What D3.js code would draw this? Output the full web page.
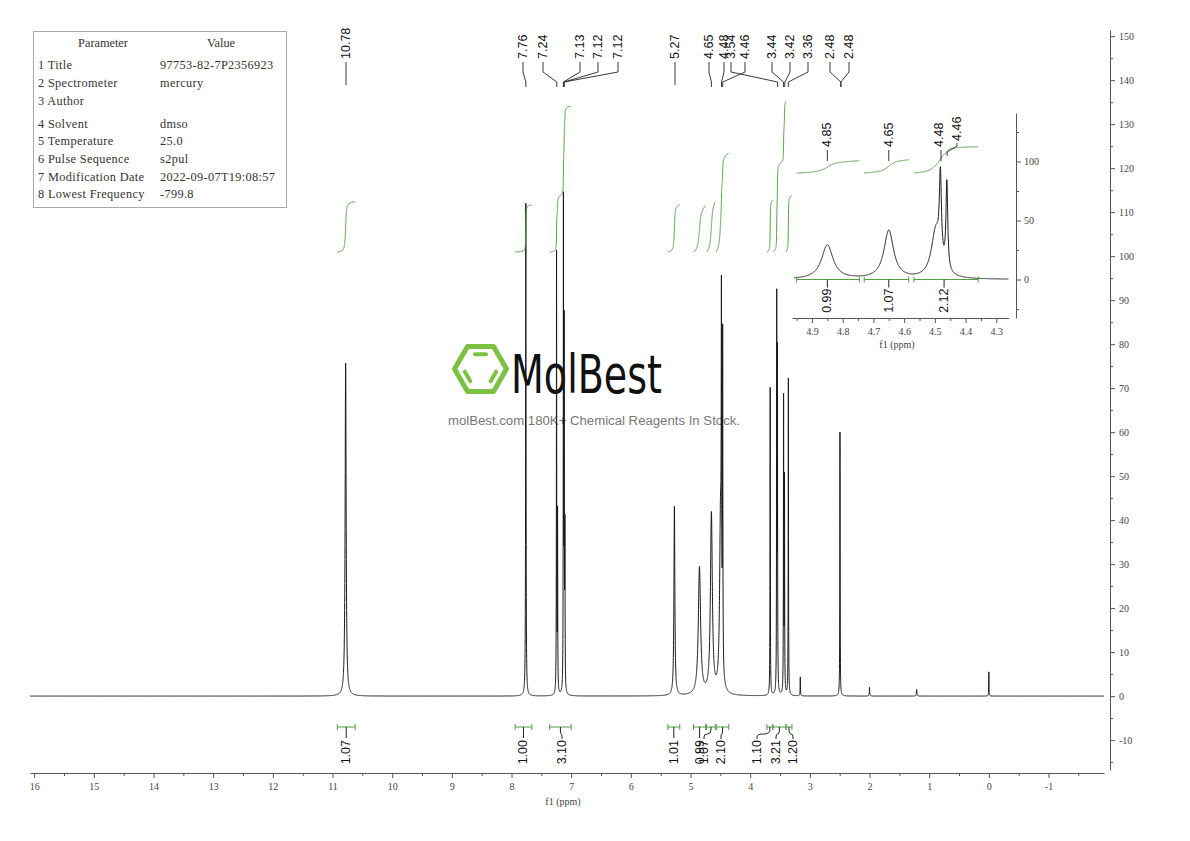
<!DOCTYPE html>
<html><head><meta charset="utf-8">
<script src="https://cdn.jsdelivr.net/npm/d3@7"></script>
<style>body{margin:0;background:#fff;} svg{display:block;}</style>
</head><body>
<svg id="c" width="1190" height="841"></svg>
<script>
// ---------------- DATA ----------------
const peakPpm    = [10.78, 7.76, 7.245, 7.228, 7.13, 7.117, 7.105, 5.27, 4.85, 4.65, 4.497, 4.482, 4.461, 3.665, 3.555, 3.543, 3.44, 3.425, 3.36, 3.16, 2.495, 2.0, 1.21, 0.0];
const peakHeight = [75.7, 112, 100, 40, 110, 80, 35, 43, 29, 41, 40, 70, 74, 70, 88, 75, 66.7, 48, 72, 4.3, 60, 2, 1.5, 5.5];
const peakWidth  = [0.02, 0.008, 0.006, 0.006, 0.006, 0.006, 0.006, 0.018, 0.045, 0.038, 0.035, 0.008, 0.007, 0.006, 0.006, 0.006, 0.006, 0.006, 0.006, 0.006, 0.006, 0.008, 0.01, 0.006];

const peakLabels   = ["10.78","7.76","7.24","7.13","7.12","7.12","5.27","4.65","4.48","3.54","4.46","3.44","3.42","3.36","2.48","2.48"];
const peakLabelPpm = [10.78, 7.76, 7.24, 7.13, 7.12, 7.12, 5.27, 4.65, 4.48, 3.54, 4.46, 3.44, 3.42, 3.36, 2.48, 2.48];

const intFrom  = [10.92, 7.94, 7.36, 5.38, 4.95, 4.73, 4.568, 3.72, 3.62, 3.40];
const intTo    = [10.62, 7.66, 7.00, 5.18, 4.746, 4.585, 4.359, 3.62, 3.40, 3.30];
const intVals  = ["1.07","1.00","3.10","1.01","0.99","1.07","2.10","1.10","3.21","1.20"];

const insetLabels   = ["4.85","4.65","4.48","4.46"];
const insetLabelPpm = [4.85, 4.65, 4.48, 4.46];
const insetIntFrom  = [4.95, 4.73, 4.568];
const insetIntTo    = [4.746, 4.585, 4.359];
const insetIntVals  = ["0.99","1.07","2.12"];

const xTicks = d3.range(16, -2, -1);
const yTicks = d3.range(-10, 151, 10);
const yMinorTicks = d3.range(-15, 150, 10);
const insetXTicks = [4.9, 4.8, 4.7, 4.6, 4.5, 4.4, 4.3];
const insetYTicks = [0, 50, 100];

const paramNames  = ["1 Title","2 Spectrometer","3 Author","4 Solvent","5 Temperature","6 Pulse Sequence","7 Modification Date","8 Lowest Frequency"];
const paramValues = ["97753-82-7P2356923","mercury","","dmso","25.0","s2pul","2022-09-07T19:08:57","-799.8"];

// ---------------- LAYOUT ----------------
const peakLabelX  = [346,523,543,580,598,618,675,709,724,731,745,772,790,808,830,849];
const intLabelX   = [346,523,562,674,700,704,721,757,776,793];
const insetLabelX = [827,889,939,957];
const paramRowY   = [69,87,105,128,145,163,181,198];
const GREEN = "#4f9f42";
const SERIF = "'Liberation Serif','DejaVu Serif',serif";
const SANS  = "'Liberation Sans',Arial,sans-serif";

const svg = d3.select('#c');
const x = d3.scaleLinear().domain([16.07, -1.93]).range([30, 1104]);
const y = d3.scaleLinear().domain([-16.8, 151.4]).range([770, 30]);

const spec = p => {
  let s = 0;
  for (let i = 0; i < peakPpm.length; i++) {
    const d = (p - peakPpm[i]) / (peakWidth[i] / 2);
    s += peakHeight[i] / (1 + d * d);
  }
  return s;
};

// ---------------- WATERMARK ----------------
(function(){
  const g = svg.append('g');
  const cx = 480.5, cy = 369, r = 26;
  const hex = d3.range(6).map(i => [cx + r*Math.cos(i*Math.PI/3), cy + r*Math.sin(i*Math.PI/3)]);
  g.append('path').attr('d', 'M' + hex.map(p=>p.join(',')).join('L') + 'Z')
    .attr('fill','none').attr('stroke','#7cc242').attr('stroke-width',5).attr('stroke-linejoin','round');
  const ri = 0.66*r;
  const inner = d3.range(6).map(i => [cx + ri*Math.cos(i*Math.PI/3), cy + ri*Math.sin(i*Math.PI/3)]);
  [[4,5],[0,1],[2,3]].forEach(([a,b])=>{
    const p=inner[a], q=inner[b];
    const t=0.18;
    g.append('line').attr('x1',p[0]+(q[0]-p[0])*t).attr('y1',p[1]+(q[1]-p[1])*t)
      .attr('x2',p[0]+(q[0]-p[0])*(1-t)).attr('y2',p[1]+(q[1]-p[1])*(1-t))
      .attr('stroke','#7cc242').attr('stroke-width',4).attr('stroke-linecap','round');
  });
  g.append('text').attr('x',511).attr('y',393).text('MolBest')
    .attr('font-family',"'DejaVu Sans Condensed','DejaVu Sans',sans-serif").attr('font-size',54)
    .attr('textLength',151).attr('lengthAdjust','spacingAndGlyphs').attr('fill','#111');
  g.append('text').attr('x',448).attr('y',425).text('molBest.com 180K+ Chemical Reagents In Stock.')
    .attr('font-family',SANS).attr('font-size',12.5).attr('fill','#777')
    .attr('textLength',292).attr('lengthAdjust','spacingAndGlyphs');
})();

// ---------------- PARAMETER TABLE ----------------
(function(){
  const g = svg.append('g').attr('font-family',SERIF).attr('font-size',12.3).attr('fill','#333');
  g.append('rect').attr('x',33.5).attr('y',31.5).attr('width',253).attr('height',176)
    .attr('fill','none').attr('stroke','#aaa');
  g.append('text').attr('x',103).attr('y',47).attr('text-anchor','middle').text('Parameter');
  g.append('text').attr('x',221).attr('y',47).attr('text-anchor','middle').text('Value');
  paramNames.forEach((n,i)=>{
    g.append('text').attr('x',38).attr('y',paramRowY[i]).text(n).attr('letter-spacing',0.35);
    g.append('text').attr('x',160).attr('y',paramRowY[i]).text(paramValues[i]).attr('letter-spacing',0.35);
  });
})();

// ---------------- MAIN SPECTRUM ----------------
const samples = d3.range(16.07, -1.93, -0.001).concat(peakPpm).sort((a,b)=>b-a);
const specPts = samples.map(p => [p, spec(p)]);
svg.append('path').datum(specPts)
  .attr('d', d3.line().x(d=>x(d[0])).y(d=>y(d[1])))
  .attr('fill','none').attr('stroke','#1a1a1a').attr('stroke-width',1);

// axes
const axX = svg.append('g').attr('transform','translate(0,773)')
  .call(d3.axisBottom(x).tickValues(xTicks).tickSize(5).tickSizeOuter(0).tickFormat(d=>String(d)));
svg.append('g').attr('transform','translate(0,773)')
  .call(d3.axisBottom(x).tickValues(xTicks.map(d=>d-0.5)).tickSize(3).tickSizeOuter(0).tickFormat(''))
  .select('.domain').remove();
const axY = svg.append('g').attr('transform','translate(1110,0)')
  .call(d3.axisRight(y).tickValues(yTicks).tickSize(5).tickSizeOuter(0).tickFormat(d=>String(d)));
svg.append('g').attr('transform','translate(1110,0)')
  .call(d3.axisRight(y).tickValues(yMinorTicks).tickSize(3).tickSizeOuter(0).tickFormat(''))
  .select('.domain').remove();
svg.selectAll('.tick line').attr('stroke','#555');
svg.selectAll('.domain').attr('stroke','#555');
[axX, axY].forEach(a=>a.selectAll('text').attr('font-family',SERIF).attr('font-size',10).attr('fill','#444'));
axX.selectAll('text').attr('dy','0.9em');
axY.selectAll('text').attr('dx','1');
svg.append('text').attr('x',563).attr('y',805).attr('text-anchor','middle')
  .attr('font-family',SERIF).attr('font-size',10).attr('fill','#444').text('f1 (ppm)');

// integral curves (top)
function integralCurve(g, xs, from, to, base, k, val){
  const pts = d3.range(from, to, -0.0005).concat([to]);
  const vals = pts.map(spec);
  let cum = 0; const c = [0];
  for (let i=1;i<pts.length;i++){ cum += (vals[i]+vals[i-1])/2; c.push(cum); }
  const tot = cum || 1;
  g.append('path').datum(pts.map((p,i)=>[xs(p), base - c[i]/tot*k*val]))
    .attr('d', d3.line()).attr('fill','none').attr('stroke',GREEN).attr('stroke-width',1);
}
const intG = svg.append('g');
intFrom.forEach((f,i)=> integralCurve(intG, x, f, intTo[i], 252, 47, +intVals[i]));

// integral brackets (bottom)
const brG = svg.append('g').attr('stroke',GREEN).attr('stroke-width',1).attr('fill','none');
intFrom.forEach((f,i)=>{
  const x1 = x(f), x2 = x(intTo[i]), cx = (x1+x2)/2, lx = intLabelX[i];
  brG.append('line').attr('x1',x1).attr('x2',x2).attr('y1',727).attr('y2',727);
  brG.append('line').attr('x1',x1).attr('x2',x1).attr('y1',724).attr('y2',730);
  brG.append('line').attr('x1',x2).attr('x2',x2).attr('y1',724).attr('y2',730);
  if (Math.abs(lx-cx) < 1.5) {
    brG.append('line').attr('x1',cx).attr('x2',cx).attr('y1',727).attr('y2',738).attr('stroke','#222');
  } else {
    brG.append('path').attr('d',`M${cx},727 L${cx},730 Q${cx},734 ${(cx+lx)/2},734 Q${lx},734 ${lx},737 L${lx},739`).attr('stroke','#222');
  }
  svg.append('text').attr('transform',`translate(${lx},740) rotate(-90)`)
    .attr('text-anchor','end').attr('dominant-baseline','central')
    .attr('font-family',SANS).attr('font-size',12.5).attr('fill','#111').text(intVals[i]);
});

// peak labels (top)
const plG = svg.append('g');
peakLabels.forEach((t,i)=>{
  const lx = peakLabelX[i], px = x(peakLabelPpm[i]);
  plG.append('text').attr('transform',`translate(${lx},59) rotate(-90)`)
    .attr('dominant-baseline','central').attr('font-family',SANS).attr('font-size',12.5)
    .attr('fill','#111').text(t);
  const d = Math.abs(lx-px) < 2 ? `M${lx},62 L${lx},85` : `M${lx},62 L${lx},72 L${px},82 L${px},87`;
  plG.append('path').attr('d',d).attr('fill','none').attr('stroke','#222').attr('stroke-width',0.9);
});

// ---------------- INSET ----------------
const xi = d3.scaleLinear().domain([4.965, 4.26]).range([792, 1008.6]);
const yi = d3.scaleLinear().domain([-32.6, 141.1]).range([318, 113]);
svg.append('clipPath').attr('id','ic').append('rect').attr('x',794).attr('y',100).attr('width',216).attr('height',220);
const ins = svg.append('g');
const iSamples = d3.range(4.965, 4.26, -0.0005).concat(peakPpm.filter(p=>p<4.965&&p>4.26)).sort((a,b)=>b-a);
ins.append('path').attr('clip-path','url(#ic)').datum(iSamples.map(p=>[p,spec(p)]))
  .attr('d', d3.line().x(d=>xi(d[0])).y(d=>yi(d[1])))
  .attr('fill','none').attr('stroke','#1a1a1a').attr('stroke-width',1);
const iax = ins.append('g').attr('transform','translate(0,318)')
  .call(d3.axisBottom(xi).tickValues(insetXTicks).tickSize(5).tickSizeOuter(0).tickFormat(d3.format('.1f')));
ins.append('g').attr('transform','translate(0,318)')
  .call(d3.axisBottom(xi).tickValues(insetXTicks.map(d=>d+0.05)).tickSize(3).tickSizeOuter(0).tickFormat(''))
  .select('.domain').remove();
const iay = ins.append('g').attr('transform','translate(1016,0)')
  .call(d3.axisRight(yi).tickValues(insetYTicks).tickSize(5).tickSizeOuter(0).tickFormat(d=>String(d)));
ins.append('g').attr('transform','translate(1016,0)')
  .call(d3.axisRight(yi).tickValues([-25,25,75,125]).tickSize(3).tickSizeOuter(0).tickFormat(''))
  .select('.domain').remove();
ins.selectAll('.tick line').attr('stroke','#555');
ins.selectAll('.domain').attr('stroke','#555');
[iax, iay].forEach(a=>a.selectAll('text').attr('font-family',SERIF).attr('font-size',10).attr('fill','#444'));
iax.selectAll('text').attr('dy','0.9em');
ins.append('text').attr('x',897).attr('y',348).attr('text-anchor','middle')
  .attr('font-family',SERIF).attr('font-size',10).attr('fill','#444').text('f1 (ppm)');

insetIntFrom.forEach((f,i)=>{
  integralCurve(ins, xi, f, insetIntTo[i], 173, 12.4, +insetIntVals[i]);
  const x1 = xi(f), x2 = xi(insetIntTo[i]), by = yi(0);
  const g = ins.append('g').attr('stroke',GREEN);
  g.append('line').attr('x1',x1).attr('x2',x2).attr('y1',by).attr('y2',by);
  g.append('line').attr('x1',x1).attr('x2',x1).attr('y1',by-3).attr('y2',by+3);
  g.append('line').attr('x1',x2).attr('x2',x2).attr('y1',by-3).attr('y2',by+3);
  const lx = xi(+[4.85,4.65,4.47][i]);
  ins.append('line').attr('x1',lx).attr('x2',lx).attr('y1',by).attr('y2',by+8).attr('stroke','#222');
  ins.append('text').attr('transform',`translate(${lx},${by+9}) rotate(-90)`)
    .attr('text-anchor','end').attr('dominant-baseline','central')
    .attr('font-family',SANS).attr('font-size',12.5).attr('fill','#111').text(insetIntVals[i]);
});
insetLabels.forEach((t,i)=>{
  const lx = insetLabelX[i], px = xi(insetLabelPpm[i]);
  const straight = Math.abs(lx-px) < 3;
  const ty = straight ? 147 : 141;
  ins.append('text').attr('transform',`translate(${lx},${ty}) rotate(-90)`)
    .attr('dominant-baseline','central').attr('font-family',SANS).attr('font-size',12.5)
    .attr('fill','#111').text(t);
  const d = straight ? `M${px},${ty+3} L${px},161` : `M${lx},${ty+2} L${lx},${ty+5} L${px},${ty+11} L${px},${ty+15}`;
  ins.append('path').attr('d',d).attr('fill','none').attr('stroke','#222').attr('stroke-width',0.9);
});
</script>
</body></html>
